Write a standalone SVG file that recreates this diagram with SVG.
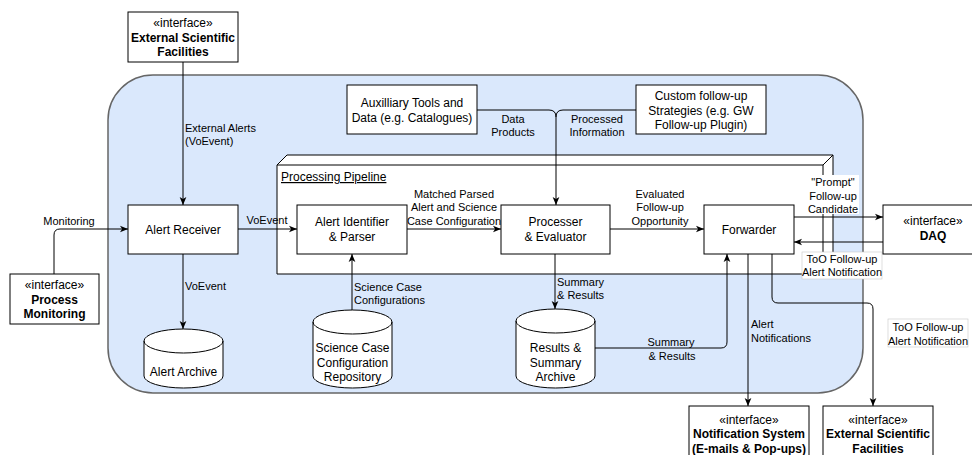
<svg xmlns="http://www.w3.org/2000/svg" width="972" height="455" viewBox="0 0 972 455">
<defs>
<marker id="arr" viewBox="0 0 10 10" refX="10" refY="5" markerWidth="8" markerHeight="8" markerUnits="userSpaceOnUse" orient="auto">
<path d="M0,0.8 L10,5 L0,9.2 L2.6,5 Z" fill="#000"/>
</marker>
<style>
text{font-family:"Liberation Sans",Arial,Helvetica,sans-serif;fill:#000}
.n{font-size:12px;text-anchor:middle}
.b{font-weight:bold}
.e{font-size:11px}
.ec{font-size:11px;text-anchor:middle}
.box{fill:#fff;stroke:#000;stroke-width:1}
.ln{fill:none;stroke:#000;stroke-width:1}
.a{fill:none;stroke:#000;stroke-width:1;marker-end:url(#arr)}
.lbg{fill:#fff;stroke:#c8c8c8;stroke-width:0.6}
</style>
</defs>
<rect width="972" height="455" fill="#fff"/>

<g id="system">
<rect x="108" y="75" width="755" height="318" rx="45" ry="45" fill="#dae8fc" stroke="#666" stroke-width="1.5"/>
</g>

<g id="pipeline">
<path d="M277,165 L287,155 L833,155 L833,264 L823,274 L277,274 Z" class="box"/>
<path d="M277,165 L823,165 L833,155 M823,165 L823,274" class="ln"/>
<text x="281" y="181" style="font-size:12px;text-decoration:underline">Processing Pipeline</text>
</g>

<g id="connectors">
<path class="a" d="M183,62 L183,205"/>
<path class="a" d="M54,274 L54,235 Q54,229 60,229 L128,229"/>
<path class="a" d="M238,229 L297,229"/>
<path class="a" d="M183,254 L183,329"/>
<path class="a" d="M352,310 L352,254"/>
<path class="a" d="M407,229 L501,229"/>
<path class="a" d="M610,229 L704,229"/>
<path class="ln" d="M477,110 L549,110 Q556,110 556,117"/>
<path class="ln" d="M636,110 L563,110 Q556,110 556,117"/>
<path class="a" d="M556,117 L556,205"/>
<path class="a" d="M555,254 L555,309"/>
<path class="a" d="M595,348 L721,348 Q727,348 727,342 L727,254"/>
<path class="a" d="M794,217 L883,217"/>
<path class="a" d="M883,242 L794,242"/>
<path class="a" d="M748,254 L748,406"/>
<path class="a" d="M772,254 L772,297 Q772,303 778,303 L867,303 Q873,303 873,309 L873,406"/>
</g>

<g id="edge-labels">
<text class="e" x="185" y="132">External Alerts</text>
<text class="e" x="185" y="145">(VoEvent)</text>
<text class="ec" x="69" y="225">Monitoring</text>
<text class="ec" x="267" y="224">VoEvent</text>
<text class="e" x="185" y="290">VoEvent</text>
<text class="e" x="354" y="291">Science Case</text>
<text class="e" x="354" y="304">Configurations</text>
<text class="ec" x="454" y="197.5">Matched Parsed</text>
<text class="ec" x="454" y="211">Alert and Science</text>
<text class="ec" x="454" y="224.5">Case Configuration</text>
<text class="ec" x="660" y="197.5">Evaluated</text>
<text class="ec" x="660" y="211">Follow-up</text>
<text class="ec" x="660" y="224.5">Opportunity</text>
<text class="ec" x="513" y="123">Data</text>
<text class="ec" x="513" y="136">Products</text>
<text class="ec" x="597" y="123">Processed</text>
<text class="ec" x="597" y="136">Information</text>
<text class="e" x="557" y="286">Summary</text>
<text class="e" x="557" y="299">&amp; Results</text>
<text class="ec" x="671" y="346">Summary</text>
<text class="ec" x="672" y="360">&amp; Results</text>
<rect x="807" y="175" width="52" height="39" fill="#fff"/>
<text class="ec" x="833" y="186">"Prompt"</text>
<text class="ec" x="833" y="199.5">Follow-up</text>
<text class="ec" x="833" y="213">Candidate</text>
<rect class="lbg" x="802" y="252" width="80" height="27"/>
<text class="ec" x="842" y="263">ToO Follow-up</text>
<text class="ec" x="842" y="276">Alert Notification</text>
<text class="e" x="751" y="328">Alert</text>
<text class="e" x="751" y="342">Notifications</text>
<rect class="lbg" x="888" y="319" width="80" height="28"/>
<text class="ec" x="928" y="331">ToO Follow-up</text>
<text class="ec" x="928" y="344.5">Alert Notification</text>
</g>

<g id="ext-top">
<rect class="box" x="128" y="12" width="110" height="50"/>
<text class="n" x="183" y="27">«interface»</text>
<text class="n b" x="183" y="41.5">External Scientific</text>
<text class="n b" x="183" y="56">Facilities</text>
</g>

<g id="process-monitoring">
<rect class="box" x="10" y="274" width="89" height="50"/>
<text class="n" x="54.5" y="289">«interface»</text>
<text class="n b" x="54.5" y="303.5">Process</text>
<text class="n b" x="54.5" y="318">Monitoring</text>
</g>

<g id="alert-receiver">
<rect class="box" x="128" y="205" width="110" height="49"/>
<text class="n" x="183" y="233.5">Alert Receiver</text>
</g>

<g id="alert-identifier">
<rect class="box" x="297" y="205" width="110" height="49"/>
<text class="n" x="352" y="226">Alert Identifier</text>
<text class="n" x="352" y="240.5">&amp; Parser</text>
</g>

<g id="processer">
<rect class="box" x="501" y="205" width="109" height="49"/>
<text class="n" x="555.5" y="226">Processer</text>
<text class="n" x="555.5" y="240.5">&amp; Evaluator</text>
</g>

<g id="forwarder">
<rect class="box" x="704" y="205" width="90" height="49"/>
<text class="n" x="749" y="233.5">Forwarder</text>
</g>

<g id="daq">
<rect class="box" x="883" y="205" width="100" height="49"/>
<text class="n" x="933" y="225">«interface»</text>
<text class="n b" x="933" y="240">DAQ</text>
</g>

<g id="auxiliary">
<rect class="box" x="347" y="85" width="130" height="49"/>
<text class="n" x="412" y="107">Auxilliary Tools and</text>
<text class="n" x="412" y="121.5">Data (e.g. Catalogues)</text>
</g>

<g id="custom">
<rect class="box" x="636" y="85" width="130" height="49"/>
<text class="n" x="701" y="100">Custom follow-up</text>
<text class="n" x="701" y="114.5">Strategies (e.g. GW</text>
<text class="n" x="701" y="129">Follow-up Plugin)</text>
</g>

<g id="alert-archive">
<path class="box" d="M144,341 A39.5,12 0 0 1 223,341 L223,376 A39.5,12 0 0 1 144,376 Z"/>
<path class="ln" d="M144,341 A39.5,12 0 0 0 223,341"/>
<text class="n" x="183.5" y="376">Alert Archive</text>
</g>

<g id="science-case-repo">
<path class="box" d="M313,322 A39.5,12 0 0 1 392,322 L392,376 A39.5,12 0 0 1 313,376 Z"/>
<path class="ln" d="M313,322 A39.5,12 0 0 0 392,322"/>
<text class="n" x="352.5" y="352">Science Case</text>
<text class="n" x="352.5" y="366.5">Configuration</text>
<text class="n" x="352.5" y="381">Repository</text>
</g>

<g id="results-archive">
<path class="box" d="M516,321 A39.5,12 0 0 1 595,321 L595,376 A39.5,12 0 0 1 516,376 Z"/>
<path class="ln" d="M516,321 A39.5,12 0 0 0 595,321"/>
<text class="n" x="555.5" y="352">Results &amp;</text>
<text class="n" x="555.5" y="366.5">Summary</text>
<text class="n" x="555.5" y="381">Archive</text>
</g>

<g id="notification-system">
<rect class="box" x="689" y="406" width="120" height="60"/>
<text class="n" x="749" y="423.5">«interface»</text>
<text class="n b" x="749" y="438">Notification System</text>
<text class="n b" x="749" y="452.5">(E-mails &amp; Pop-ups)</text>
</g>

<g id="ext-bottom">
<rect class="box" x="823" y="406" width="110" height="60"/>
<text class="n" x="878" y="423.5">«interface»</text>
<text class="n b" x="878" y="438">External Scientific</text>
<text class="n b" x="878" y="452.5">Facilities</text>
</g>
</svg>
